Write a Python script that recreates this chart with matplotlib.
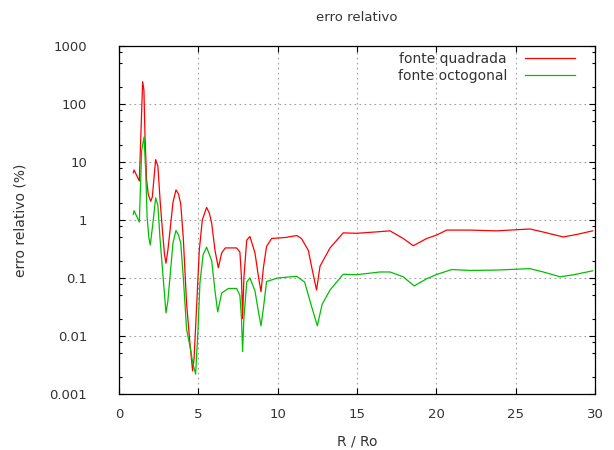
import matplotlib
matplotlib.use("Agg")
import matplotlib.pyplot as plt
from matplotlib.ticker import LogLocator, FixedLocator, NullFormatter

# fonte quadrada (vermelho)
x_quad = [0.9, 0.95, 1.28, 1.39, 1.49, 1.57, 1.64, 1.74, 1.85, 2.0, 2.1, 2.31, 2.45,
          2.6, 2.75, 2.87, 2.96, 3.08, 3.2, 3.4, 3.59, 3.75, 3.89, 4.05, 4.26, 4.47,
          4.64, 4.73, 4.9, 5.06, 5.25, 5.52, 5.7, 5.84, 6.05, 6.26, 6.47, 6.7, 7.41,
          7.62, 7.72, 7.79, 7.87, 8.05, 8.25, 8.57, 8.8, 8.95, 9.1, 9.3, 9.62, 10.5,
          11.2, 11.5, 11.93, 12.2, 12.45, 12.67, 13.3, 14.13, 14.98, 16.45, 17.08,
          17.91, 18.55, 19.39, 20.02, 20.65, 22.1, 23.8, 25.9, 26.74, 28.0, 28.8, 29.85]
y_quad = [6.5, 7.3, 4.7, 36, 243, 174, 27, 4.9, 2.7, 2.1, 2.5, 11.0, 8.5,
          2.0, 0.6, 0.25, 0.18, 0.3, 0.6, 2.0, 3.3, 2.8, 1.9, 0.5, 0.036, 0.0075,
          0.0025, 0.004, 0.036, 0.3, 1.0, 1.65, 1.3, 0.88, 0.3, 0.15, 0.27, 0.33, 0.33,
          0.28, 0.1, 0.02, 0.1, 0.45, 0.52, 0.27, 0.1, 0.058, 0.15, 0.35, 0.48, 0.5,
          0.54, 0.48, 0.3, 0.13, 0.062, 0.16, 0.33, 0.60, 0.59, 0.63, 0.65,
          0.48, 0.36, 0.48, 0.55, 0.67, 0.67, 0.65, 0.70, 0.62, 0.51, 0.56, 0.65]

# fonte octogonal (verde)
x_oct = [0.9, 0.95, 1.28, 1.43, 1.58, 1.68, 1.77, 1.88, 1.97, 2.12, 2.31, 2.45, 2.58,
         2.79, 2.96, 3.08, 3.2, 3.4, 3.59, 3.75, 3.89, 4.05, 4.26, 4.52, 4.64, 4.83,
         4.98, 5.1, 5.3, 5.52, 5.84, 6.05, 6.22, 6.47, 6.89, 7.41, 7.62, 7.72, 7.79,
         7.87, 8.05, 8.25, 8.57, 8.8, 8.95, 9.1, 9.3, 10.0, 11.2, 11.7, 12.1, 12.5,
         12.8, 13.3, 14.13, 14.98, 16.45, 17.08, 17.91, 18.6, 19.39, 20.02, 20.97,
         22.1, 23.8, 25.9, 26.74, 27.8, 28.6, 29.85]
y_oct = [1.25, 1.45, 0.92, 16, 27, 7.3, 1.15, 0.5, 0.37, 0.8, 2.4, 1.8, 0.5,
         0.095, 0.025, 0.04, 0.095, 0.4, 0.66, 0.55, 0.4, 0.105, 0.013, 0.0057, 0.0035, 0.0022,
         0.013, 0.082, 0.25, 0.34, 0.2, 0.06, 0.026, 0.055, 0.066, 0.066, 0.05, 0.02, 0.0054,
         0.02, 0.085, 0.1, 0.06, 0.025, 0.015, 0.03, 0.087, 0.1, 0.107, 0.085, 0.035, 0.015,
         0.035, 0.062, 0.116, 0.114, 0.127, 0.127, 0.105, 0.073, 0.097, 0.115, 0.14,
         0.135, 0.137, 0.145, 0.127, 0.105, 0.113, 0.133]

plt.rcParams['font.family'] = ['DejaVu Sans']
plt.rcParams['font.size'] = 9.5

fig = plt.figure(figsize=(6.14, 4.5), dpi=100)
ax = fig.add_axes([119/614, 56/450, 476/614, 348/450])

ax.plot(x_quad, y_quad, color='#ff0000', lw=0.9, label='fonte quadrada')
ax.plot(x_oct, y_oct, color='#00c000', lw=0.9, label='fonte octogonal')

ax.set_yscale('log')
ax.set_xlim(0, 30)
ax.set_ylim(0.001, 1000)
ax.xaxis.set_major_locator(FixedLocator([0, 5, 10, 15, 20, 25, 30]))
ax.yaxis.set_major_locator(FixedLocator([0.001, 0.01, 0.1, 1, 10, 100, 1000]))
ax.set_yticklabels(['0.001', '0.01', '0.1', '1', '10', '100', '1000'])
ax.yaxis.set_minor_locator(LogLocator(base=10, subs=(2, 5, 8)))
ax.yaxis.set_minor_formatter(NullFormatter())

ax.tick_params(which='both', direction='in', top=True, right=True, colors='black',
               labelcolor='#333333', labelsize=9.5)
ax.tick_params(which='major', length=4, width=0.8)
ax.tick_params(axis='y', which='major', pad=23)
ax.tick_params(axis='x', which='major', pad=10)
ax.tick_params(which='minor', length=2, width=0.8)

ax.grid(True, which='major', color='#a0a0a0', lw=0.8, linestyle=(0, (1.5, 3)))
for s in ax.spines.values():
    s.set_linewidth(0.9)

ax.set_title('erro relativo', fontsize=9.5, color='#333333', pad=18)
ax.set_xlabel('R / Ro', fontsize=10, color='#333333', labelpad=10)
ax.set_ylabel('erro relativo (%)', fontsize=10, color='#333333', labelpad=16)

ax.legend(loc='upper right', bbox_to_anchor=(0.958, 0.983), frameon=False,
          markerfirst=False, borderpad=0, borderaxespad=0, handlelength=3.6,
          handletextpad=1.3, labelspacing=0.2, fontsize=10, labelcolor='#333333')

fig.savefig('out.png', dpi=100)
